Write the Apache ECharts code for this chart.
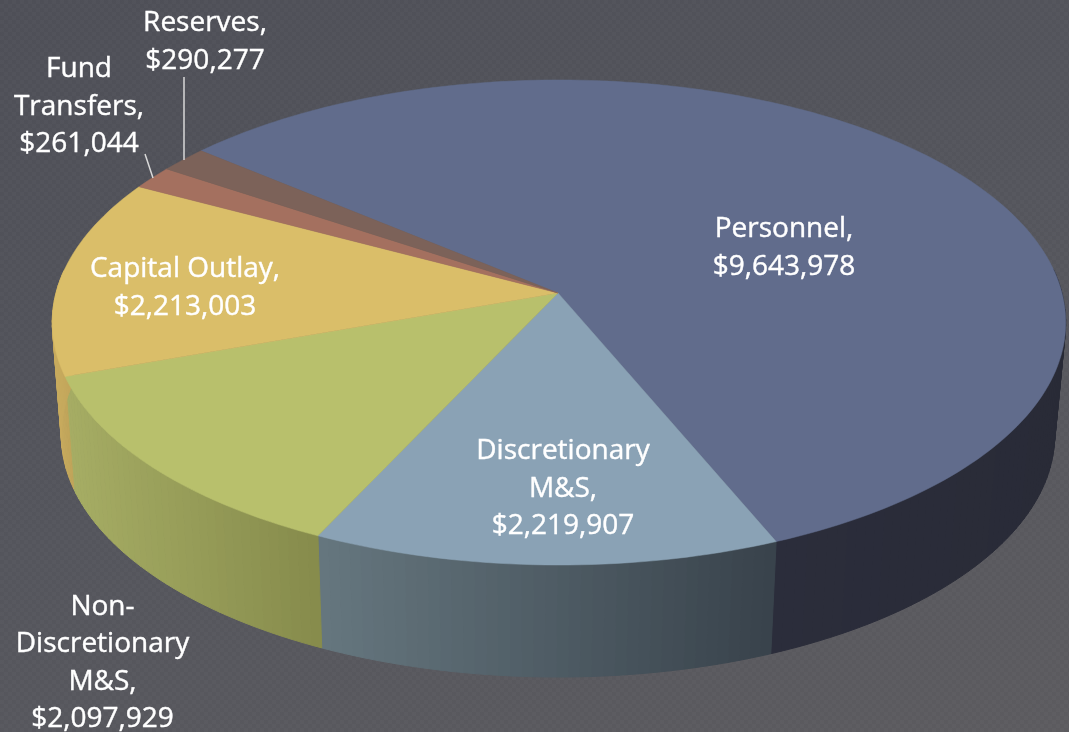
<!DOCTYPE html>
<html>
<head>
<meta charset="utf-8">
<style>
html,body{margin:0;padding:0;width:1069px;height:732px;overflow:hidden}
body{background:
 repeating-conic-gradient(rgba(255,255,255,.012) 0 25%, rgba(0,0,0,.012) 0 50%) 0 0/8px 8px,
 linear-gradient(160deg,#4f5058 0%,#55565d 50%,#5d5c60 100%);}
#main{width:1069px;height:732px}
</style>
<script src="https://cdn.jsdelivr.net/npm/echarts@6/dist/echarts.min.js"></script>
</head>
<body>
<div id="main"></div>
<script>
const categories = ['Personnel', 'Discretionary M&S', 'Non-Discretionary M&S', 'Capital Outlay', 'Fund Transfers', 'Reserves'];
const amounts = [9643978, 2219907, 2097929, 2213003, 261044, 290277];

// Styling
const topColors = ['#616c8c', '#8aa2b5', '#b8c06c', '#dabe69', '#a4705f', '#7c6259'];
const wallLeftColors = ['#2b2d3b', '#66777f', '#a6ad64', '#c8ab5e', '#8a5f50', '#6a534b'];
const wallRightColors = ['#292b37', '#38424b', '#868b4c', '#c0a45a', '#8a5f50', '#6a534b'];
const labelLines = [['Personnel,'], ['Discretionary', 'M&S,'], ['Non-', 'Discretionary', 'M&S,'], ['Capital Outlay,'], ['Fund', 'Transfers,'], ['Reserves,']];
const labelCenters = [[784, 248], [563, 489], [102.5, 663], [185, 288], [79, 107], [205, 42]];
const leaders = [null, null, null, null, [[145, 154], [153, 178]], [[184, 77], [184, 160]]];

// Perspective projection of the unit disc on the top and bottom rims
const START = -140.1, PERSP = -0.1216;
const topRim = {cx: 559, W: 503, A: 203.3, B: 293};
const botRim = {cx: 558, W: 493, A: 189.1, B: 405.6};
function project(rim, deg) {
  const a = deg * Math.PI / 180, u = Math.cos(a), v = Math.sin(a), d = 1 + PERSP * v;
  return [rim.cx + rim.W * u / d, (rim.A * v + rim.B) / d];
}
const total = amounts.reduce((s, x) => s + x, 0);
function sweep(i) {
  let a = START;
  for (let k = 0; k < i; k++) a += amounts[k] / total * 360;
  return [a, a + amounts[i] / total * 360];
}
function hexMix(c1, c2, t) {
  const p = c => [1, 3, 5].map(n => parseInt(c.substr(n, 2), 16));
  const a = p(c1), b = p(c2);
  return 'rgb(' + a.map((x, j) => Math.round(x + (b[j] - x) * t)).join(',') + ')';
}
function arcAngles(a0, a1) {
  const n = Math.max(2, Math.ceil((a1 - a0) / 1.2)), out = [];
  for (let k = 0; k <= n; k++) out.push(a0 + (a1 - a0) * k / n);
  return out;
}
const facesViewer = a => Math.sin(a * Math.PI / 180) > -0.1;
function renderWall(params, api) {
  const i = params.dataIndex, [a0, a1] = sweep(i);
  const ang = arcAngles(a0, a1).filter(facesViewer), children = [];
  if (ang.length < 2) return {type: 'group', children};
  const xs = ang.map(a => project(topRim, a)[0]);
  const lo = Math.min(...xs), hi = Math.max(...xs);
  for (let k = 0; k < ang.length - 1; k++) {
    const p = project(topRim, ang[k]), q = project(topRim, ang[k + 1]);
    const r = project(botRim, ang[k + 1]), s = project(botRim, ang[k]);
    const t = hi > lo ? Math.min(1, Math.max(0, ((p[0] + q[0]) / 2 - lo) / (hi - lo))) : 0;
    const col = hexMix(wallLeftColors[i], wallRightColors[i], t);
    children.push({type: 'polygon', shape: {points: [p, q, r, s]}, style: {fill: col, stroke: col, lineWidth: 1}});
  }
  return {type: 'group', children};
}
function renderTop(params, api) {
  const i = params.dataIndex, [a0, a1] = sweep(i);
  const pts = [[topRim.cx - 1, topRim.B]].concat(arcAngles(a0, a1).map(a => project(topRim, a)));
  return {type: 'polygon', shape: {points: pts}, style: {fill: topColors[i], stroke: topColors[i], lineWidth: 0.5}};
}
function renderLabel(params, api) {
  const i = params.dataIndex, children = [];
  const text = labelLines[i].concat('$' + amounts[i].toLocaleString('en-US')).join('\n');
  children.push({type: 'text', style: {
    text, x: labelCenters[i][0], y: labelCenters[i][1], align: 'center', verticalAlign: 'middle',
    fill: '#ffffff', stroke: '#ffffff', lineWidth: 0.4, font: '500 28px "Open Sans"', lineHeight: 37.5
  }});
  if (leaders[i]) {
    children.push({type: 'polyline', shape: {points: leaders[i]}, style: {stroke: '#d9d9d9', lineWidth: 1.5, fill: 'none'}});
  }
  return {type: 'group', children};
}
const seriesData = amounts.map((v, i) => ({name: categories[i], value: v}));
const chart = echarts.init(document.getElementById('main'), null, {renderer: 'canvas'});
chart.setOption({
  animation: false,
  backgroundColor: 'transparent',
  series: [
    {type: 'custom', coordinateSystem: 'none', renderItem: renderWall, data: seriesData, silent: true, z: 1},
    {type: 'custom', coordinateSystem: 'none', renderItem: renderTop, data: seriesData, silent: true, z: 2},
    {type: 'custom', coordinateSystem: 'none', renderItem: renderLabel, data: seriesData, silent: true, z: 3}
  ]
});
</script>
</body>
</html>
